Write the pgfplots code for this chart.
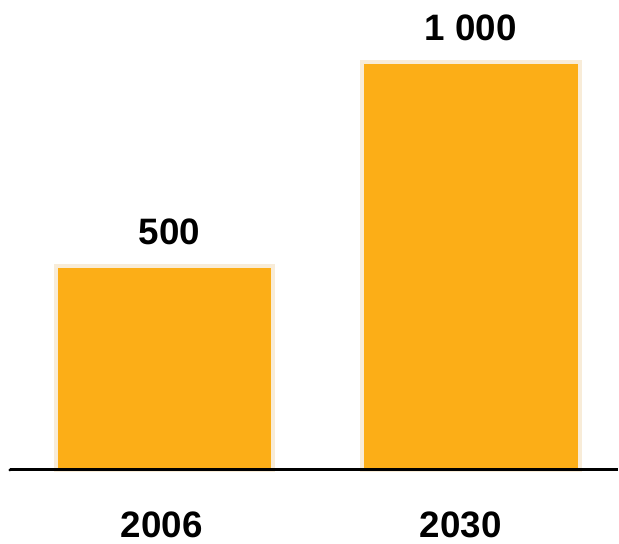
\documentclass[border=0pt]{standalone}
\usepackage{pgfplots}
\pgfplotsset{compat=1.18}
\usepackage{fontspec}
\setmainfont{Liberation Sans}
\definecolor{barfill}{RGB}{252,174,23}
\definecolor{baredge}{RGB}{248,236,216}
\begin{document}
\begin{tikzpicture}
\begin{axis}[
  scale only axis,
  width=619bp, height=545bp,
  xmin=-0.5375, xmax=1.4788,
  ymin=-180.9, ymax=1151.6,
  axis line style={draw=none},
  ytick=\empty,
  xtick={-0.0098,0.9674},
  xticklabels={2006,2030},
  major tick length=0pt,
  xticklabel style={font=\bfseries\fontsize{37}{40}\selectfont, anchor=base, yshift=6bp, inner sep=0pt},
  ybar, bar width=218bp,
  clip=false,
  nodes near coords,
  point meta=explicit symbolic,
  every node near coord/.append style={font=\bfseries\fontsize{37}{40}\selectfont, anchor=base, yshift=21.5bp, inner sep=0pt},
]
\addplot[fill=barfill, draw=baredge, line width=4bp, bar shift=0pt,
  every node near coord/.append style={xshift=5bp}]
  coordinates {(0,500) [500]};
\addplot[fill=barfill, draw=baredge, line width=4bp, bar shift=0pt]
  coordinates {(1,1000) [1 000]};
\draw[line width=3bp, line cap=butt] (axis cs:-0.505,0) -- (axis cs:1.4788,0);
\fill (axis cs:-0.505,0) circle[radius=1.5bp];
\end{axis}
\end{tikzpicture}
\end{document}
